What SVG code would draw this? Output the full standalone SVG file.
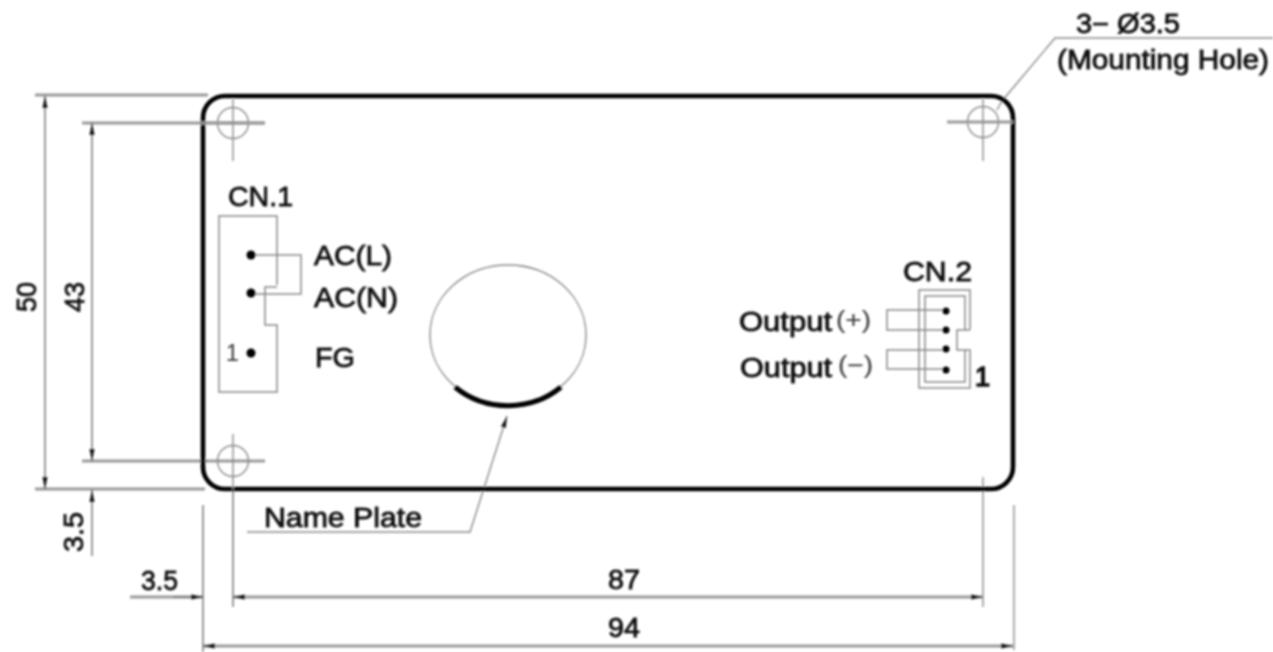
<svg xmlns="http://www.w3.org/2000/svg" width="1273" height="652" viewBox="0 0 1273 652">
<defs>
<filter id="soft" x="-2%" y="-2%" width="104%" height="104%"><feGaussianBlur stdDeviation="0.8"/></filter>
<marker id="arr" viewBox="0 0 12 6" refX="12" refY="3" markerWidth="12" markerHeight="6" markerUnits="userSpaceOnUse" orient="auto-start-reverse"><path d="M0 .5L12 3L0 5.500Z" fill="#111"/></marker>
</defs>
<style>
.t{font-family:"Liberation Sans",Arial,sans-serif;font-size:28px;fill:#111;stroke:#111;stroke-width:.8;paint-order:stroke}
.o{font-size:27px}
.s{font-size:23px;stroke:#555;stroke-width:.2;fill:#444}
.thin{fill:none;stroke:#8a8a8a;stroke-width:1.4}
.ext{fill:none;stroke:#999;stroke-width:3}
.dim{fill:none;stroke:#777;stroke-width:1.5}
.wire{fill:none;stroke:#888;stroke-width:1.5}
.dot{fill:#000}
</style>
<rect width="1273" height="652" fill="#fff"/>
<g filter="url(#soft)">
<g id="connectors">
<path class="ext" d="M35 95H208M82 123H265M35 489H205M82 461H265"/>
<path class="dim" d="M45 96V489" marker-start="url(#arr)" marker-end="url(#arr)"/>
<path class="dim" d="M92 123V461" marker-start="url(#arr)" marker-end="url(#arr)"/>
<path class="dim" d="M92 556V490" marker-end="url(#arr)"/>
<path class="ext" d="M130 597H203"/>
<path class="ext" d="M233 597H983" marker-start="url(#arr)" marker-end="url(#arr)"/>
<path class="ext" d="M203 646H1013" marker-start="url(#arr)" marker-end="url(#arr)"/>
<path class="dim" d="M173 597H203" marker-end="url(#arr)"/>
<path class="dim" d="M203 505V652M233 490V607"/>
<path class="thin" d="M983 477V607M1014 505V650"/>
<path class="thin" d="M1273 38H1055L1002 101L997 110"/>
<path class="thin" d="M247 532H470L507 416" marker-end="url(#arr)"/>
</g>
<g id="board">
<rect x="203" y="96" width="810" height="393" rx="22" fill="none" stroke="#000" stroke-width="4.600"/>
</g>
<g id="hole-top-left">
<circle class="thin" cx="233" cy="123" r="15.500"/>
<path class="ext" d="M200 123H265"/><path class="thin" d="M233 99V161"/>
</g>
<g id="hole-top-right">
<circle class="thin" cx="983" cy="122" r="15.500"/>
<path class="ext" d="M947 122H1013"/><path class="thin" d="M983 99V161"/>
</g>
<g id="hole-bottom-left">
<circle class="thin" cx="233" cy="461" r="15.500"/>
<path class="thin" d="M233 434V490"/>
</g>
<g id="cn1">
<path class="wire" d="M277 285V216H219V392H277V325H265V287H277"/>
<path class="wire" d="M251 255H301V294H251"/>
<circle class="dot" cx="251" cy="255" r="4.500"/><circle class="dot" cx="251" cy="293" r="4.500"/><circle class="dot" cx="251" cy="353" r="4.500"/>
<text class="t" x="228" y="206" textLength="65" lengthAdjust="spacingAndGlyphs">CN.1</text>
<text class="t" x="314" y="265" textLength="78" lengthAdjust="spacingAndGlyphs">AC(L)</text>
<text class="t" x="314" y="307" textLength="84" lengthAdjust="spacingAndGlyphs">AC(N)</text>
<text class="t" x="315" y="367" textLength="40" lengthAdjust="spacingAndGlyphs">FG</text>
<text class="t s" x="226" y="361">1</text>
</g>
<g id="nameplate">
<ellipse class="thin" cx="508" cy="335" rx="78" ry="70"/>
<path d="M455 387A78 70 0 0 0 561 387" fill="none" stroke="#000" stroke-width="5"/>
<text class="t o" x="264" y="527" textLength="158" lengthAdjust="spacingAndGlyphs">Name Plate</text>
</g>
<g id="cn2">
<path class="wire" d="M970 330V290H919V388H970V350H957V330H970"/>
<path class="wire" d="M965 330V296H925V382H965V350"/>
<path class="wire" d="M946 310H887V330H946M946 350H887V369H946"/>
<circle class="dot" cx="946" cy="311" r="3.500"/><circle class="dot" cx="946" cy="330" r="3.500"/><circle class="dot" cx="946" cy="349" r="3.500"/><circle class="dot" cx="946" cy="370" r="3.500"/>
<text class="t" x="903" y="281" textLength="69" lengthAdjust="spacingAndGlyphs">CN.2</text>
<text class="t o" x="739" y="331" textLength="93" lengthAdjust="spacingAndGlyphs">Output</text>
<text class="t s" x="836" y="328" textLength="35" lengthAdjust="spacingAndGlyphs">(+)</text>
<text class="t o" x="740" y="377" textLength="92" lengthAdjust="spacingAndGlyphs">Output</text>
<text class="t s" x="838" y="373" textLength="35" lengthAdjust="spacingAndGlyphs">(−)</text>
<text class="t o" x="975" y="386" style="stroke-width:1.500">1</text>
</g>
<g id="labels">
<text class="t o" x="1076" y="33" textLength="104" lengthAdjust="spacingAndGlyphs">3− Ø3.5</text>
<text class="t o" x="1057" y="69" textLength="212" lengthAdjust="spacingAndGlyphs">(Mounting Hole)</text>
<text class="t" transform="translate(36 312) rotate(-90)" textLength="30" lengthAdjust="spacingAndGlyphs">50</text>
<text class="t" transform="translate(84 312) rotate(-90)" textLength="30" lengthAdjust="spacingAndGlyphs">43</text>
<text class="t o" transform="translate(83 552) rotate(-90)" textLength="40" lengthAdjust="spacingAndGlyphs">3.5</text>
<text class="t o" x="141" y="590" textLength="37" lengthAdjust="spacingAndGlyphs">3.5</text>
<text class="t" x="608" y="589" textLength="32" lengthAdjust="spacingAndGlyphs">87</text>
<text class="t" x="608" y="637" textLength="32" lengthAdjust="spacingAndGlyphs">94</text>
</g>
</g>
</svg>
